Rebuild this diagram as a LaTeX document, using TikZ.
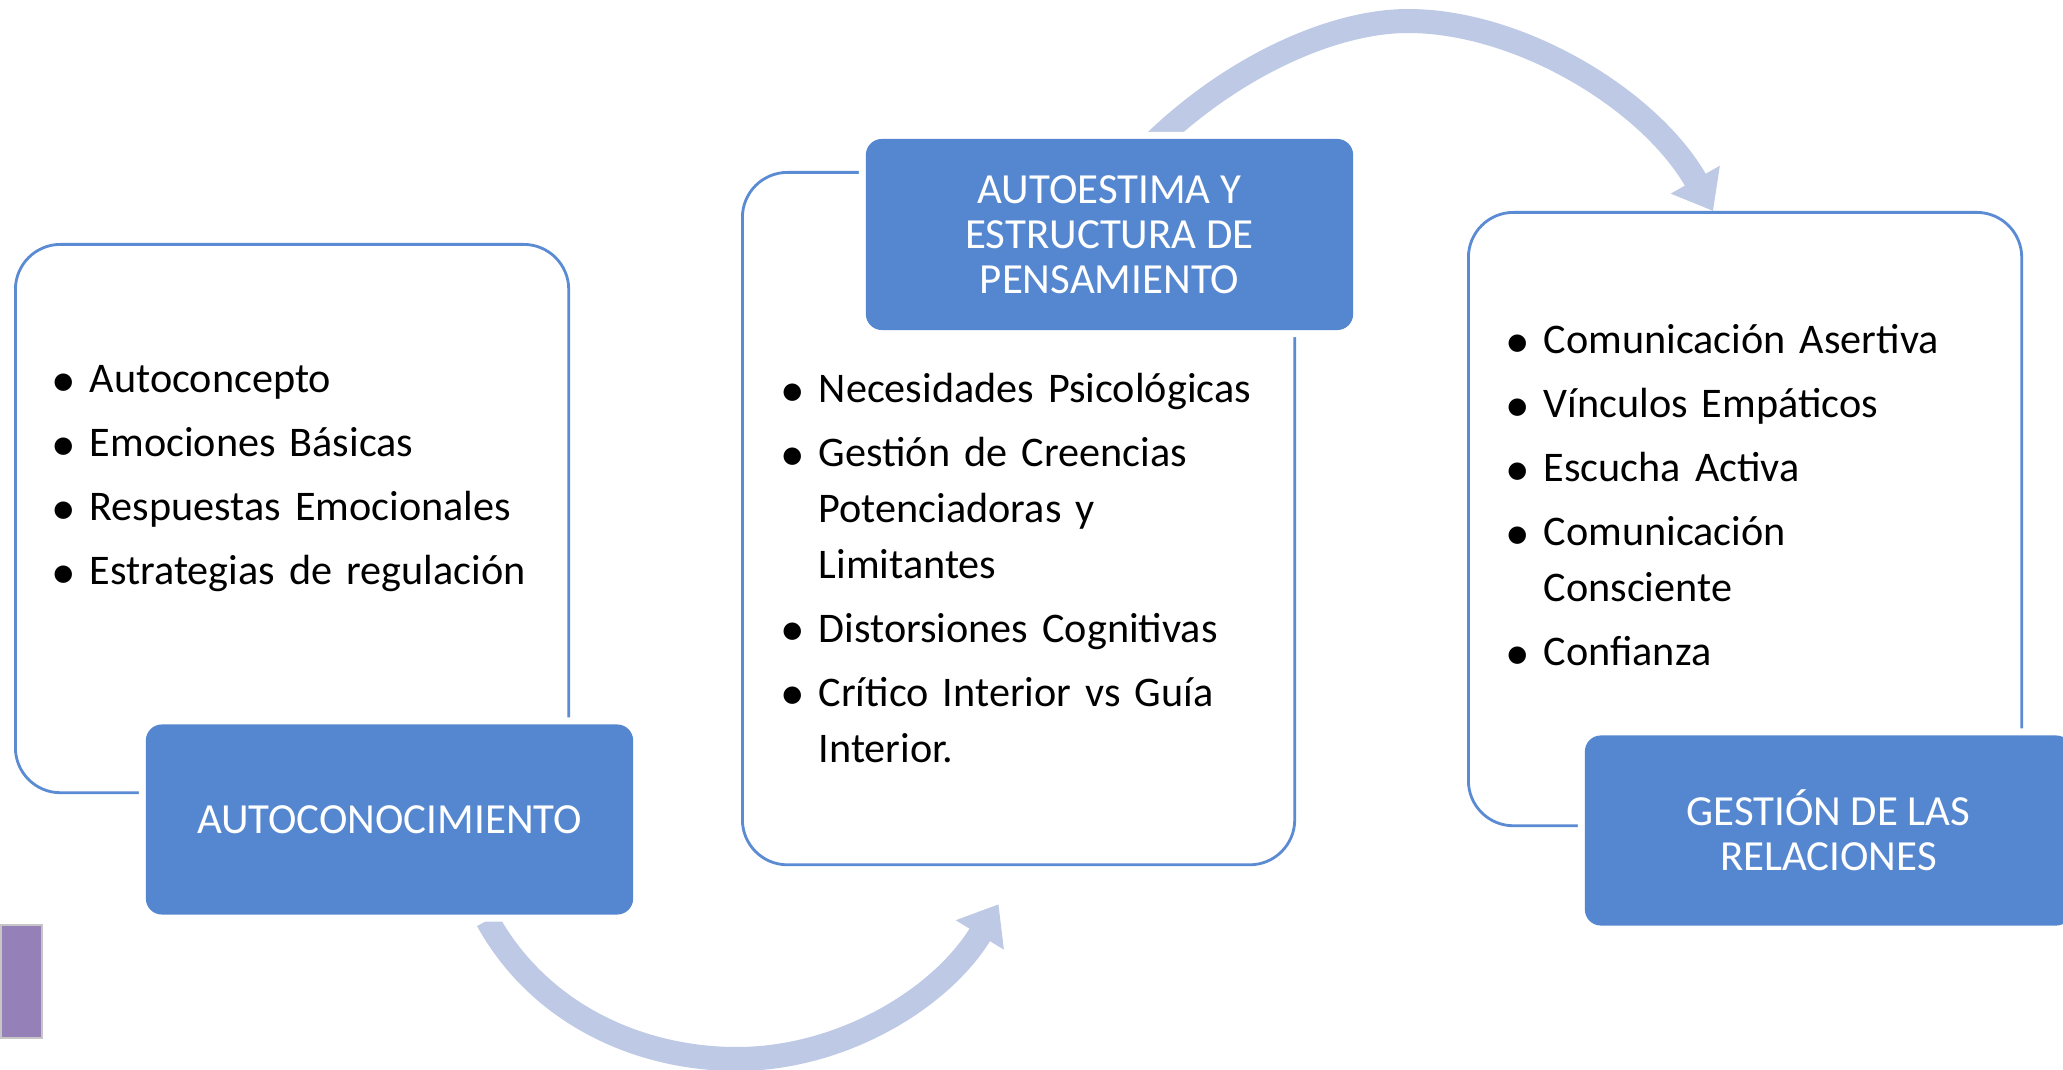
\documentclass[tikz,border=0pt]{standalone}
\usepackage{fontspec}
\setmainfont{Carlito}
\usetikzlibrary{arrows.meta,positioning,calc,backgrounds}
\definecolor{tilefill}{HTML}{5587D0}
\definecolor{frameline}{HTML}{5B8BD2}
\definecolor{swoop}{HTML}{BDC9E5}
\definecolor{tabviolet}{HTML}{9580B8}
\newcommand{\titlefont}{\fontsize{12.2}{12.8}\selectfont}
\newcommand{\itemfont}{\fontsize{12}{15.9}\selectfont\raggedright\setlength{\parskip}{2.3pt}}
\def \bulind {0.52cm}
\newcommand{\bul}[1]{\par\noindent\hangindent=\bulind\hangafter=1\makebox[\bulind][c]{\raisebox{-0.08em}{\fontsize{14}{0}\selectfont\textbullet}}#1\par}
\tikzstyle{frame} = [draw=frameline,line width=0.8pt,rectangle,rounded corners=0.45cm,inner sep=0,anchor=north west]
\tikzstyle{tile} = [fill=tilefill,rectangle,rounded corners=0.16cm,inner sep=0,text=white,align=center,font=\titlefont,minimum width=4.87cm,minimum height=1.9cm,preaction={draw=white,line width=0.14cm}]
\tikzstyle{items} = [inner sep=0,anchor=north west,text width=5.4cm,font=\itemfont]
\tikzstyle{swoosh} = [draw=swoop,line width=0.24cm,-{Triangle[width=0.54cm,length=0.36cm]}]
\tikzstyle{tab} = [fill=tabviolet,draw=gray!45,line width=0.5pt,inner sep=0,anchor=north west,minimum width=0.41cm,minimum height=1.13cm]

\begin{document}
\begin{tikzpicture}[x=0.01cm,y=-0.01cm]
  \useasboundingbox (0,0) rectangle (2063,1070);
  \clip (0,0) rectangle (2063,1070);
  % outlined panels
  \node[frame,minimum width=5.53cm,minimum height=5.48cm] (selfL) at (14,243) {};
  \node[frame,minimum width=5.52cm,minimum height=6.92cm] (estM) at (741,171) {};
  \node[frame,minimum width=5.53cm,minimum height=6.13cm] (relR) at (1467,211) {};
  % filled headers
  \node[tile] (self) at (389.5,819.5) {AUTOCONOCIMIENTO};
  \node[tile,minimum height=1.91cm] (esti) at (1109.5,234.5) {AUTOESTIMA Y\\ESTRUCTURA DE\\PENSAMIENTO};
  \node[tile] (rel) at (1828.5,830.5) {GESTIÓN DE LAS\\RELACIONES};
  % bullet lists
  \node[items] (listL) at (37,328) {\bul{Autoconcepto}\bul{Emociones Básicas}\bul{Respuestas Emocionales}\bul{Estrategias de regulación}};
  \node[items] (listM) at (766,338) {\bul{Necesidades Psicológicas}\bul{Gestión de Creencias\newline Potenciadoras y\newline Limitantes}\bul{Distorsiones Cognitivas}\bul{Crítico Interior vs Guía\newline Interior.}};
  \node[items] (listR) at (1491,289) {\bul{Comunicación Asertiva}\bul{Vínculos Empáticos}\bul{Escucha Activa}\bul{Comunicación\newline Consciente}\bul{Confianza}};
  \node[tab] (tab) at (0,924) {};
  % curved arrows
  \begin{pgfonlayer}{background}
    \draw[swoosh] ($(self.south)+(98,5)$) .. controls (540,1015) and (640,1059) .. (737,1059)
      .. controls (840,1059) and (940,1000) .. ($(estM.south)+(-20,38)$);
    \draw[swoosh] ($(esti.north)+(35,14)$) .. controls (1225,70) and (1330,21) .. (1408,21)
      .. controls (1520,21) and (1650,100) .. ($(relR.north)+(-32,0)$);
  \end{pgfonlayer}
\end{tikzpicture}
\end{document}
